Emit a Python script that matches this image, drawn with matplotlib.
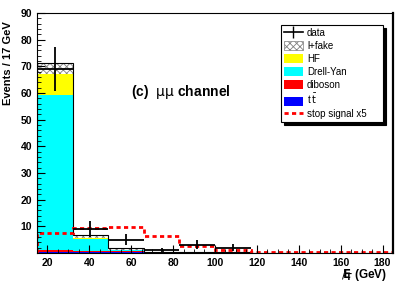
import matplotlib
matplotlib.use("Agg")
import matplotlib.pyplot as plt
import numpy as np
from matplotlib.lines import Line2D
from matplotlib.patches import Patch

plt.rcParams['font.family'] = ['Liberation Sans', 'DejaVu Sans']
plt.rcParams['hatch.linewidth'] = 0.6

# bin edges: 17 GeV bins from 15 to 185 GeV
edges = np.arange(15, 186, 17)

# backgrounds (stacked bottom -> top)
ttbar   = [0.5, 0.3, 0.3, 0.3, 0.2, 0.2, 0.1, 0.1, 0.1, 0.1]
diboson = [0.6, 0.5, 0.4, 0.1, 0.1, 0.1, 0.0, 0.0, 0.0, 0.0]
dy      = [58.0, 4.6, 0.3, 0.0, 0.0, 0.0, 0.0, 0.0, 0.0, 0.0]
hf      = [8.0, 0.3, 0.0, 0.0, 0.0, 0.0, 0.0, 0.0, 0.0, 0.0]
lfake   = [4.0, 1.0, 0.8, 0.1, 0.1, 0.0, 0.0, 0.0, 0.0, 0.0]

data     = [69, 9, 5, 1, 3, 2, 0, 0, 0, 0]
data_err = [8.3, 3.0, 2.2, 1.0, 1.7, 1.4, 0, 0, 0, 0]

signal = [7.4, 9.3, 9.9, 6.4, 2.7, 1.0, 0.5, 0.5, 0.5, 0.5]

fig = plt.figure(figsize=(4.15, 2.82), dpi=100)
ax = fig.add_axes([0.089, 0.103, 0.858, 0.851])

width = 17
left = edges[:-1]
bottom = np.zeros(len(left))
for vals, col in [(ttbar, '#0000ff'), (diboson, '#ff0000'), (dy, '#00ffff'), (hf, '#ffff00')]:
    ax.bar(left, vals, width=width, bottom=bottom, align='edge', color=col, linewidth=0)
    bottom = bottom + np.array(vals)
ax.bar(left, lfake, width=width, bottom=bottom, align='edge', facecolor='white',
       edgecolor='#808080', hatch='xxxxx', linewidth=0)
total = bottom + np.array(lfake)
ax.stairs(total, edges, color='black', linewidth=0.8)

# stop signal x5
ax.stairs(signal, edges, color='red', linewidth=2.0, linestyle=(0, (1.5, 1.2)))

# data
centers = (edges[:-1] + edges[1:]) / 2
data = np.array(data, dtype=float)
mask = data > 0
ax.errorbar(centers[mask], data[mask], xerr=width / 2, yerr=np.array(data_err)[mask],
            fmt='none', ecolor='black', elinewidth=1.3, capsize=0)

ax.set_xlim(15, 185)
ax.set_ylim(0, 90)
ax.set_xticks(np.arange(20, 181, 20))
ax.set_xticks(np.arange(15, 186, 5), minor=True)
ax.set_yticks(np.arange(10, 91, 10))
ax.set_yticks(np.arange(0, 91, 2), minor=True)
ax.tick_params(which='both', direction='in', top=False, right=False, labelsize=7.5)
ax.tick_params(which='major', length=6)
ax.tick_params(which='minor', length=3)
for lab in ax.get_xticklabels() + ax.get_yticklabels():
    lab.set_fontweight('bold')
ax.spines['right'].set_linewidth(1.6)

ax.set_ylabel('Events / 17 GeV', fontsize=8, fontweight='bold')
ax.yaxis.set_label_coords(-0.068, 0.79)
ax.set_xlabel(r'$\mathbf{E}\!\!\!\!\!/_{\mathbf{T}}$ (GeV)', fontsize=8.5, fontweight='bold')
ax.xaxis.set_label_coords(0.918, -0.06)

ax.text(0.265, 0.655, r'(c)  $\mathrm{\mu\mu}$ channel', transform=ax.transAxes,
        fontsize=10, fontweight='bold')

handles = [
    Line2D([], [], color='black', marker='|', markersize=8, linewidth=1.2),
    Patch(facecolor='white', edgecolor='#808080', hatch='xxxxx', linewidth=0.5),
    Patch(facecolor='#ffff00', edgecolor='none'),
    Patch(facecolor='#00ffff', edgecolor='none'),
    Patch(facecolor='#ff0000', edgecolor='none'),
    Patch(facecolor='#0000ff', edgecolor='none'),
    Line2D([], [], color='red', linewidth=2.0, linestyle=(0, (1.5, 1.2))),
]
labels = ['data', 'l+fake', 'HF', 'Drell-Yan', 'diboson', r't$\,\bar{\rm t}$', 'stop signal x5']
leg = ax.legend(handles, labels, loc='upper left', bbox_to_anchor=(0.685, 0.504, 0.287, 0.446),
                mode='expand', fontsize=7, fancybox=False, edgecolor='black',
                framealpha=1, shadow={'color': 'black', 'alpha': 1},
                handlelength=2.0, handleheight=1.1, labelspacing=0.3,
                handletextpad=0.4, borderpad=0.3, borderaxespad=0)
leg.get_frame().set_linewidth(0.8)

fig.savefig('out.png', dpi=100, facecolor='white')
